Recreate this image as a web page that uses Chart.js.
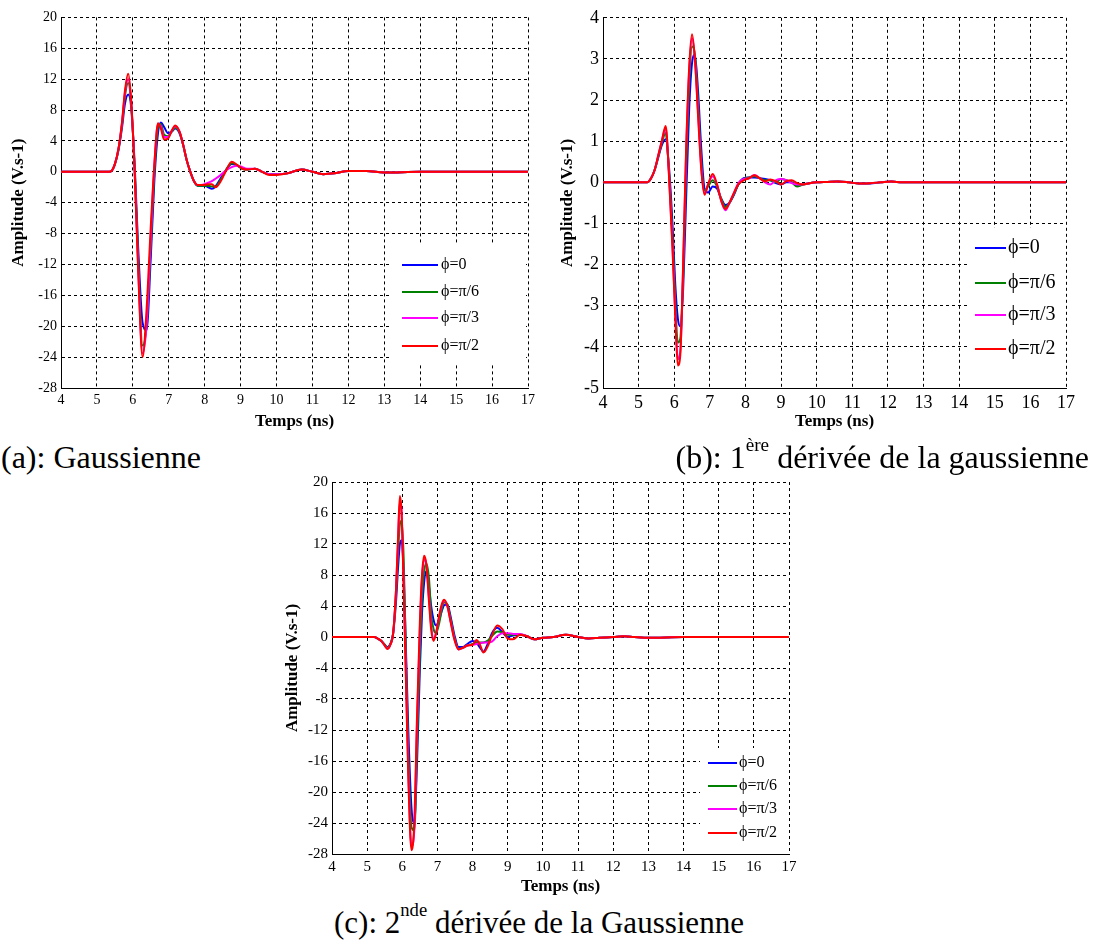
<!DOCTYPE html>
<html><head><meta charset="utf-8">
<script src="https://cdn.jsdelivr.net/npm/chart.js@4.4.1/dist/chart.umd.min.js"></script>
<style>
body{margin:0;background:#fff;width:1093px;height:940px;position:relative;overflow:hidden;font-family:"Liberation Serif","Times New Roman",serif;}
canvas{position:absolute;}
.cap{position:absolute;font-size:32px;line-height:32px;white-space:nowrap;color:#000;}
.cap sup{font-size:60%;vertical-align:0;position:relative;top:-0.9em;line-height:0;}
</style></head><body>
<canvas id="ca" width="530" height="425" style="left:10px;top:5px;width:530px;height:425px"></canvas>
<canvas id="cb" width="520" height="427" style="left:559px;top:3px;width:520px;height:427px"></canvas>
<canvas id="cc" width="517" height="426" style="left:284px;top:469px;width:517px;height:426px"></canvas>
<div class="cap" style="left:1px;top:441px">(a): Gaussienne</div>
<div class="cap" style="right:4px;top:441px">(b): 1<sup>ère</sup> dérivée de la gaussienne</div>
<div class="cap" style="left:334px;top:907px;font-size:31px;line-height:31px">(c): 2<sup>nde</sup> dérivée de la Gaussienne</div>
<script>
// ---------- data ----------
const seriesLabels = ["ϕ=0", "ϕ=π/6", "ϕ=π/3", "ϕ=π/2"];
const seriesColors = ["#0000ff", "#008000", "#ff00ff", "#ff0000"];
const xTitle = "Temps (ns)";
const yTitle = "Amplitude (V.s-1)";

// (a) Gaussienne
const tA = [4,5,5.3,5.4,5.5,5.6,5.7,5.78,5.87,5.95,6.05,6.15,6.27,6.38,6.5,6.6,6.7,6.78,6.87,6.98,7.08,7.18,7.3,7.4,7.5,7.6,7.7,7.8,7.9,8.0,8.1,8.2,8.3,8.45,8.6,8.75,8.9,9.05,9.2,9.4,9.6,9.8,10.0,10.3,10.7,11.0,11.3,11.6,12.0,12.5,13,14,15,16,17];
const a_phi0 = [0,0,0,0.1,1.0,2.8,5.8, 8.8,10.0,8.5, 1,-10,-19.5,-20.5,-11, -1,5.0,6.4,5.8,5.0, 5.2,5.6,5.0,3.5,1.5, 0,-1.2,-1.8,-1.8,-1.8, -2.0,-2.2,-1.9,-0.8,0.3, 1.0,0.8,0.4,0.3,0.4, 0,-0.3,-0.3,-0.2,0.3, 0,-0.3,-0.2,0.1,0.1, -0.1,0,0,0,0];
const a_phi6 = [0,0,0,0.1,1.0,2.9,6.2, 9.8,11.5,9.0, 0.5,-11.5,-22.5,-20,-9.5, 0,5.8,6.2,4.8,4.6, 5.2,5.7,5.1,3.5,1.5, 0,-1.2,-1.8,-1.8,-1.8, -1.8,-1.9,-1.9,-1.0,0.3, 1.1,0.9,0.4,0.3,0.4, 0,-0.3,-0.3,-0.2,0.3, 0,-0.3,-0.2,0.1,0.1, -0.1,0,0,0,0];
const a_phi3 = [0,0,0,0.1,1.0,3.0,6.4, 10.2,12.0,9.3, 0.2,-12.5,-23.5,-20,-8.5, 1,6.2,5.9,4.5,4.5, 5.3,5.9,5.2,3.5,1.5, 0,-1.2,-1.7,-1.7,-1.6, -1.4,-1.2,-0.9,-0.4,0.2, 0.6,0.8,0.6,0.4,0.4, 0,-0.3,-0.3,-0.2,0.3, 0,-0.3,-0.2,0.1,0.1, -0.1,0,0,0,0];
const a_phi2 = [0,0,0,0.1,1.0,3.0,6.5, 10.5,12.7,9.5, 0,-13,-24,-18,-7, 1,6.3,5.6,4.2,4.3, 5.3,6.0,5.2,3.5,1.5, 0,-1.2,-1.7,-1.7,-1.7, -1.6,-1.6,-2.0,-1.2,0.2, 1.3,0.9,0.4,0.3,0.4, 0,-0.4,-0.4,-0.2,0.3, 0,-0.3,-0.2,0.1,0.1, -0.1,0,0,0,0];
const yTicksA = [-28,-24,-20,-16,-12,-8,-4,0,4,8,12,16,20];

// (b) 1ere derivee
const tB = [4,5,5.24,5.35,5.45,5.55,5.65,5.76,5.85,5.95,6.03,6.1,6.17,6.25,6.33,6.42,6.5,6.58,6.67,6.76,6.85,6.95,7.08,7.2,7.32,7.44,7.55,7.68,7.8,7.95,8.1,8.25,8.4,8.55,8.7,8.85,9.0,9.15,9.3,9.45,9.6,9.8,10.0,10.3,10.6,10.9,11.2,11.5,11.8,12.1,12.4,13,14,15,16,17];
const b_phi0 = [0,0,0,0.1,0.3, 0.6,0.9,1.05,0.4,-1.0, -2.5,-3.3,-3.5,-2.6,-0.5, 1.8,2.9,3.1,2.2,0.8, -0.15,-0.25,-0.1,-0.15,-0.4, -0.55,-0.5,-0.3,-0.05,0.1, 0.12,0.12,0.1,0.08,0.05, -0.02,-0.05,0.0,0.0,-0.08, -0.05,-0.02,0,0.01,0.02, 0,-0.03,-0.03,0,0.02, 0,0,0,0,0, 0];
const b_phi6 = [0,0,0,0.1,0.3, 0.62,0.95,1.2,0.3,-1.3, -2.9,-3.9,-3.8,-2.3,0.2, 2.4,3.3,3.1,1.9,0.5, -0.2,-0.1,0.05,-0.1,-0.4, -0.6,-0.5,-0.28,-0.05,0.08, 0.12,0.15,0.1,0.05,0.05, 0.0,0.08,0.05,0.0,-0.1, -0.06,-0.02,0,0.01,0.02, 0,-0.03,-0.02,0,0.02, 0,0,0,0,0, 0];
const b_phi3 = [0,0,0,0.1,0.3, 0.65,1.0,1.32,0.25,-1.5, -3.2,-4.3,-4.1,-2.1,0.6, 2.7,3.5,3.0,1.7,0.35, -0.28,-0.05,0.15,-0.05,-0.45, -0.68,-0.5,-0.25,-0.02,0.08, 0.1,0.18,0.1,0.0,-0.05, 0.05,0.08,0.05,-0.02,-0.05, -0.05,-0.02,0,0.01,0.02, 0,-0.03,-0.02,0,0.02, 0,0,0,0,0, 0];
const b_phi2 = [0,0,0,0.1,0.3, 0.65,1.0,1.37,0.2,-1.6, -3.3,-4.45,-4.2,-2.0,0.7, 2.8,3.6,3.0,1.6,0.3, -0.3,-0.05,0.2,-0.05,-0.45, -0.65,-0.5,-0.25,-0.05,0.05, 0.1,0.17,0.1,0.02,0.07, 0.03,-0.05,0.03,0.05,-0.02, -0.05,-0.02,0,0.01,0.02, 0,-0.03,-0.02,0,0.02, 0,0,0,0,0, 0];
const yTicksB = [-5,-4,-3,-2,-1,0,1,2,3,4];

// (c) 2nde derivee
const tC = [4,5,5.2,5.3,5.4,5.5,5.58,5.66,5.74,5.82,5.88,5.93,5.98,6.04,6.1,6.17,6.26,6.34,6.42,6.5,6.56,6.62,6.68,6.76,6.82,6.89,6.96,7.05,7.12,7.19,7.28,7.38,7.48,7.6,7.72,7.85,8.0,8.11,8.2,8.31,8.42,8.55,8.7,8.85,9.0,9.15,9.35,9.55,9.75,10.0,10.3,10.65,11.0,11.3,11.6,12.0,12.3,12.6,13,14,15,16,17];
const c_phi0 = [0,0,0,-0.2,-0.5, -1.0,-1.3,-0.9,0.5,4.5, 9,12,12.5,8,-1, -12,-22,-24,-16,-4, 3,7,8.5,6.5,4.0, 2.2,1.5,2.2,3.3,4.1, 4.2,2.5,0.3,-1.3,-1.3, -0.9,-0.5,-0.7,-1.3,-1.9, -1.0,0.5,1.2,0.6,0, 0.2,0.3,0.1,-0.3,-0.1, 0,0.3,0,-0.2,-0.1, 0,0.1,0,-0.1,0, 0,0,0];
const c_phi6 = [0,0,0,-0.2,-0.5, -1.0,-1.4,-0.9,0.5,5.5, 11,14.5,15,10,-2, -15,-24.5,-25,-14,-2, 5,8.5,9.5,7.5,3, 1.0,0.5,1.8,3.5,4.5, 4.2,2.2,0,-1.5,-1.4, -1.1,-0.9,-0.7,-0.7,-0.7, -0.5,0.1,0.7,0.6,0.3, 0.3,0.35,0.1,-0.3,-0.1, 0,0.3,0,-0.2,-0.1, 0,0.1,0,-0.1,0, 0,0,0];
const c_phi3 = [0,0,0,-0.2,-0.5, -1.1,-1.5,-1.0,0.5,6, 12.5,17.5,16,7,-4, -17,-27,-25,-11,1, 7.5,10,9.5,5,1.5, -0.2,0.5,2.6,4.0,4.7, 4.0,1.9,-0.2,-1.6,-1.4, -1.1,-1.0,-0.9,-0.8,-0.7, -0.7,-0.6,0.1,0.5,0.5, 0.4,0.4,0.1,-0.3,-0.1, 0,0.3,0,-0.2,-0.1, 0,0.1,0,-0.1,0, 0,0,0];
const c_phi2 = [0,0,0,-0.2,-0.5, -1.1,-1.55,-1.0,0.5,6, 13,18.2,16,6,-5, -18,-27.5,-24,-10,2, 8,10.5,9.5,4.5,1.0, -0.5,0.5,2.8,4.2,4.8, 4.0,1.8,-0.3,-1.6,-1.4, -1.1,-1.0,-0.4,-0.9,-2.0, -1.3,0.2,1.5,1.0,-0.2, -0.3,0.3,0.1,-0.3,-0.1, 0,0.3,0,-0.2,-0.1, 0,0.1,0,-0.1,0, 0,0,0];
const yTicksC = [-28,-24,-20,-16,-12,-8,-4,0,4,8,12,16,20];

const xTicks = [4,5,6,7,8,9,10,11,12,13,14,15,16,17];

// ---------- drawing ----------
const SERIF = '"Liberation Serif", "Times New Roman", serif';

function makeLegendPlugin(g) {
  return {
    id: 'boxLegend',
    afterDatasetsDraw(chart) {
      const ctx = chart.ctx;
      ctx.save();
      ctx.fillStyle = '#fff';
      ctx.fillRect(g.box[0] - g.ox, g.box[1] - g.oy, g.box[2] - g.box[0], g.box[3] - g.box[1]);
      ctx.font = g.size + 'px ' + SERIF;
      ctx.textBaseline = 'middle';
      ctx.textAlign = 'left';
      chart.data.datasets.forEach((ds, i) => {
        const y = g.rows[i] - g.oy;
        ctx.strokeStyle = ds.borderColor;
        ctx.lineWidth = 2;
        ctx.beginPath();
        ctx.moveTo(g.l0 - g.ox, y);
        ctx.lineTo(g.l1 - g.ox, y);
        ctx.stroke();
        ctx.fillStyle = '#000';
        ctx.fillText(ds.label, g.tx - g.ox, y);
      });
      ctx.restore();
    }
  };
}

function makeChart(id, t, series, yTicks, cfg) {
  const datasets = series.map((vals, i) => ({
    label: seriesLabels[i],
    data: t.map((x, k) => ({x: x, y: vals[k]})),
    borderColor: seriesColors[i],
    backgroundColor: seriesColors[i],
    borderWidth: 2,
    pointRadius: 0,
    fill: false,
    order: series.length - 1 - i,
    cubicInterpolationMode: 'monotone'
  }));
  return new Chart(document.getElementById(id), {
    type: 'line',
    data: { datasets },
    plugins: [makeLegendPlugin(cfg.legend)],
    options: {
      responsive: false,
      animation: false,
      events: [],
      layout: { padding: { top: 12, right: 12, left: 0, bottom: 0 } },
      plugins: { legend: { display: false }, tooltip: { enabled: false } },
      scales: {
        x: {
          type: 'linear',
          min: xTicks[0], max: xTicks[xTicks.length - 1],
          afterBuildTicks: s => { s.ticks = xTicks.map(v => ({value: v})); },
          afterFit: s => { s.height = cfg.xh; },
          ticks: { autoSkip: false, maxRotation: 0, padding: 4, color: '#000',
                   font: { family: SERIF, size: cfg.tick } },
          grid: { color: '#000', lineWidth: 1, drawTicks: false },
          border: { display: true, color: '#000', width: 1, dash: [3, 3] },
          title: { display: true, text: xTitle, color: '#000', padding: 0,
                   font: { family: SERIF, size: 17, weight: 'bold', lineHeight: 1 } }
        },
        y: {
          type: 'linear',
          min: yTicks[0], max: yTicks[yTicks.length - 1],
          afterBuildTicks: s => { s.ticks = yTicks.map(v => ({value: v})); },
          afterFit: s => { s.width = cfg.yw; },
          ticks: { autoSkip: false, padding: 4, color: '#000',
                   font: { family: SERIF, size: cfg.tick } },
          grid: { color: '#000', lineWidth: 1, drawTicks: false },
          border: { display: true, color: '#000', width: 1, dash: [3, 3] },
          title: { display: true, text: yTitle, color: '#000', padding: 0,
                   font: { family: SERIF, size: 17, weight: 'bold', lineHeight: 1 } }
        }
      }
    }
  });
}

makeChart('ca', tA, [a_phi0, a_phi6, a_phi3, a_phi2], yTicksA, {
  yw: 51, xh: 42, tick: 14,
  legend: { ox: 10, oy: 5, box: [389, 245, 526, 363], rows: [265, 292, 318, 346],
            l0: 402, l1: 438, tx: 441, size: 16 }
});
makeChart('cb', tB, [b_phi0, b_phi6, b_phi3, b_phi2], yTicksB, {
  yw: 44, xh: 42, tick: 18,
  legend: { ox: 559, oy: 3, box: [969, 228, 1066, 387], rows: [248, 283, 315, 349],
            l0: 975, l1: 1006, tx: 1008, size: 20 }
});
makeChart('cc', tC, [c_phi0, c_phi6, c_phi3, c_phi2], yTicksC, {
  yw: 48, xh: 41, tick: 15,
  legend: { ox: 284, oy: 469, box: [700, 748, 788, 853], rows: [763, 786, 809, 833],
            l0: 708, l1: 737, tx: 739, size: 16 }
});
</script>
</body></html>
